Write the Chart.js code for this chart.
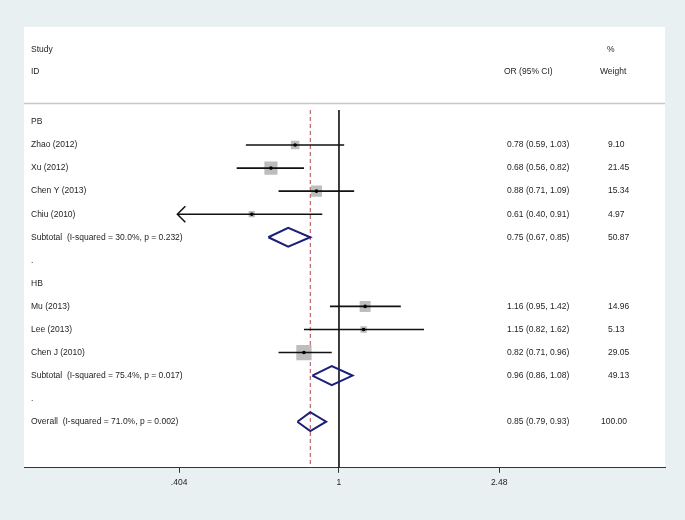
<!DOCTYPE html>
<html>
<head>
<meta charset="utf-8">
<script src="https://cdn.jsdelivr.net/npm/chart.js@4.4.1/dist/chart.umd.min.js"></script>
<style>
  html, body { margin: 0; padding: 0; background: #e9f0f2; }
  canvas { display: block; }
</style>
</head>
<body>
<canvas id="forest" width="685" height="520"></canvas>
<script>
// rows of the forest plot, top to bottom
const rowLabels = [
  'PB',
  'Zhao (2012)',
  'Xu (2012)',
  'Chen Y (2013)',
  'Chiu (2010)',
  'Subtotal  (I-squared = 30.0%, p = 0.232)',
  '.',
  'HB',
  'Mu (2013)',
  'Lee (2013)',
  'Chen J (2010)',
  'Subtotal  (I-squared = 75.4%, p = 0.017)',
  '.',
  'Overall  (I-squared = 71.0%, p = 0.002)',
]
const rowKind = ['group', 'study', 'study', 'study', 'study', 'pooled', 'gap', 'group', 'study', 'study', 'study', 'pooled', 'gap', 'pooled']
const oddsRatio = [null, 0.78, 0.68, 0.88, 0.61, 0.75, null, null, 1.16, 1.15, 0.82, 0.96, null, 0.85]
const ciLow = [null, 0.59, 0.56, 0.71, 0.40, 0.67, null, null, 0.95, 0.82, 0.71, 0.86, null, 0.79]
const ciHigh = [null, 1.03, 0.82, 1.09, 0.91, 0.85, null, null, 1.42, 1.62, 0.96, 1.08, null, 0.93]
const weights = [null, 9.10, 21.45, 15.34, 4.97, 50.87, null, null, 14.96, 5.13, 29.05, 49.13, null, 100.00]

const xTicks = [0.404, 1, 2.48]
const xTickLabels = ['.404', '1', '2.48']

const overallRow = rowKind.lastIndexOf('pooled')
const FONT = '8.5px "Liberation Sans", Arial, sans-serif'
const TEXT = '#1e1e1e'

// y range of the plot area, in row units
const Y_MIN = -0.52
const Y_MAX = 15

// Build datasets
const gap = { x: null, y: null }
const ciLines = []
const squares = []
const dots = []
const diamonds = []
rowKind.forEach((kind, i) => {
  if (kind === 'study') {
    ciLines.push({ x: ciLow[i], y: i }, { x: ciHigh[i], y: i }, gap)
    squares.push({ x: oddsRatio[i], y: i, w: weights[i] })
    dots.push({ x: oddsRatio[i], y: i })
  } else if (kind === 'pooled') {
    const h = 0.41
    diamonds.push(
      { x: ciLow[i], y: i },
      { x: oddsRatio[i], y: i - h },
      { x: ciHigh[i], y: i },
      { x: oddsRatio[i], y: i + h },
      { x: ciLow[i], y: i },
      gap
    )
  }
})

const refLine = [{ x: 1, y: Y_MIN }, { x: 1, y: Y_MAX }]
const overallLine = [{ x: oddsRatio[overallRow], y: Y_MIN }, { x: oddsRatio[overallRow], y: Y_MAX }]

const panelPlugin = {
  id: 'panel',
  beforeDraw(chart) {
    const { ctx, chartArea } = chart
    ctx.save()
    ctx.fillStyle = '#e9f0f2'
    ctx.fillRect(0, 0, chart.width, chart.height)
    ctx.fillStyle = '#ffffff'
    ctx.fillRect(chartArea.left, 27, chartArea.right - chartArea.left, chartArea.bottom - 27)
    ctx.restore()
  },
  afterDraw(chart) {
    const { ctx, chartArea, scales } = chart
    const y = scales.y
    const x = scales.x
    const left = chartArea.left + 7
    const orCol = chartArea.left + 483
    const wCol = chartArea.left + 584

    ctx.save()
    ctx.font = FONT
    ctx.fillStyle = TEXT
    ctx.textBaseline = 'middle'

    // header
    ctx.fillText('Study', left, y.getPixelForValue(-3.12))
    ctx.fillText('ID', left, y.getPixelForValue(-2.17))
    ctx.fillText('OR (95% CI)', orCol - 3, y.getPixelForValue(-2.17))
    ctx.fillText('%', wCol - 1, y.getPixelForValue(-3.12))
    ctx.fillText('Weight', wCol - 8, y.getPixelForValue(-2.17))

    // separator under header
    ctx.strokeStyle = '#c8c8c8'
    ctx.lineWidth = 1.5
    ctx.beginPath()
    const sy = Math.round(y.getPixelForValue(-0.82)) + 0.5
    ctx.moveTo(chartArea.left, sy)
    ctx.lineTo(chartArea.right, sy)
    ctx.stroke()

    // row texts
    rowLabels.forEach((label, i) => {
      const py = y.getPixelForValue(i)
      ctx.fillText(label, left, py)
      if (oddsRatio[i] != null) {
        const t = oddsRatio[i].toFixed(2) + ' (' + ciLow[i].toFixed(2) + ', ' + ciHigh[i].toFixed(2) + ')'
        ctx.fillText(t, orCol, py)
        ctx.fillText(weights[i].toFixed(2), weights[i] >= 100 ? wCol - 7 : wCol, py)
      }
    })

    // arrows for CIs that run past the left end of the axis
    ctx.strokeStyle = '#111'
    ctx.lineWidth = 1.5
    rowKind.forEach((kind, i) => {
      if (kind === 'study' && ciLow[i] < xTicks[0]) {
        const tx = x.getPixelForValue(ciLow[i])
        const ty = y.getPixelForValue(i)
        ctx.beginPath()
        ctx.moveTo(tx + 8, ty - 8)
        ctx.lineTo(tx, ty)
        ctx.lineTo(tx + 8, ty + 8)
        ctx.stroke()
      }
    })
    ctx.restore()
  },
}

Chart.defaults.font.family = '"Liberation Sans", Arial, sans-serif'
Chart.defaults.font.size = 8.5
Chart.defaults.color = TEXT

new Chart(document.getElementById('forest'), {
  type: 'scatter',
  data: {
    datasets: [
      {
        label: 'point',
        data: dots,
        pointRadius: 1.8,
        pointBackgroundColor: '#000',
        pointBorderWidth: 0,
      },
      {
        label: 'ci',
        data: ciLines,
        showLine: true,
        spanGaps: false,
        borderColor: '#111',
        borderWidth: 1.6,
        pointRadius: 0,
      },
      {
        label: 'weight',
        data: squares,
        pointStyle: 'rect',
        pointRadius: (c) => (c.raw ? 2.0 * Math.sqrt(c.raw.w) : 0),
        pointBackgroundColor: '#bdbdbd',
        pointBorderWidth: 0,
      },
      {
        label: 'pooled',
        data: diamonds,
        showLine: true,
        spanGaps: false,
        borderColor: '#1c1f78',
        borderWidth: 2,
        borderJoinStyle: 'miter',
        pointRadius: 0,
      },
      {
        label: 'overall',
        data: overallLine,
        showLine: true,
        borderColor: '#b0464e',
        borderWidth: 1,
        borderDash: [4, 3],
        pointRadius: 0,
      },
      {
        label: 'null',
        data: refLine,
        showLine: true,
        borderColor: '#222',
        borderWidth: 1,
        pointRadius: 0,
      },
    ],
  },
  options: {
    responsive: false,
    animation: false,
    events: [],
    layout: { padding: { left: 24, right: 20, top: 110, bottom: 27 } },
    plugins: { legend: { display: false }, tooltip: { enabled: false } },
    scales: {
      x: {
        type: 'logarithmic',
        min: 0.1677,
        max: 6.35,
        afterBuildTicks: (scale) => {
          scale.ticks = xTicks.map((v) => ({ value: v }))
        },
        ticks: {
          autoSkip: false,
          maxRotation: 0,
          padding: 5,
          color: TEXT,
          font: { size: 8.5 },
          callback: (value) => xTickLabels[xTicks.indexOf(value)] ?? '',
        },
        grid: { drawOnChartArea: false, tickLength: 5, tickColor: '#333', tickWidth: 1 },
        border: { display: true, color: '#333', width: 1 },
      },
      y: {
        type: 'linear',
        display: false,
        reverse: true,
        min: Y_MIN,
        max: Y_MAX,
      },
    },
  },
  plugins: [panelPlugin],
})
</script>
</body>
</html>
